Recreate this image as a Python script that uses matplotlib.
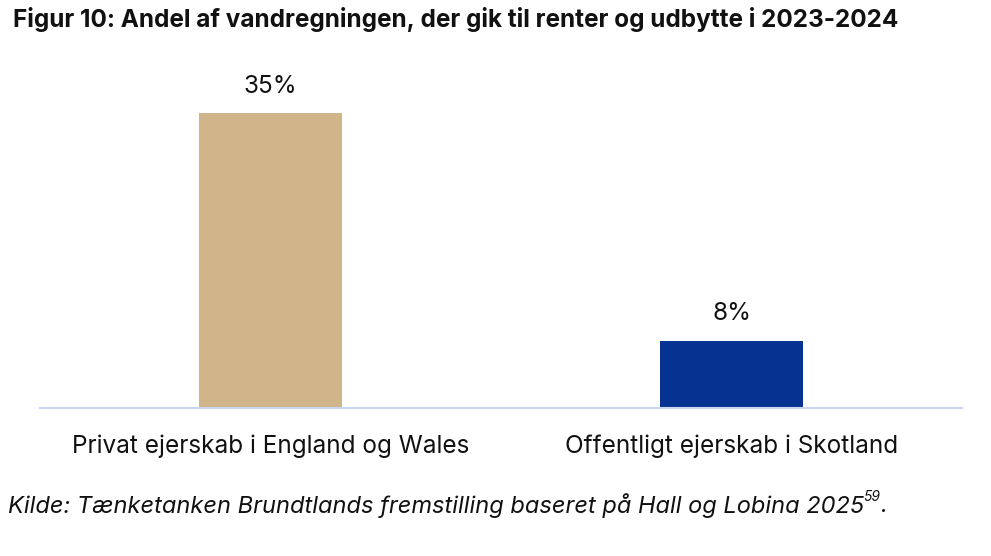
import matplotlib
matplotlib.use("Agg")
import matplotlib.pyplot as plt

plt.rcParams['font.family'] = ['Inter', 'DejaVu Sans']

categories = ["Privat ejerskab i England og Wales", "Offentligt ejerskab i Skotland"]
values = [35, 8]
bar_colors = ["#D0B48A", "#063291"]
title = "Figur 10: Andel af vandregningen, der gik til renter og udbytte i 2023-2024"
source = "Kilde: Tænketanken Brundtlands fremstilling baseret på Hall og Lobina 2025"
footnote = "59"


def main():
    fig = plt.figure(figsize=(9.91, 5.56), dpi=100)
    ax = fig.add_axes([40 / 991, 1 - 408 / 556, 922 / 991, 337 / 556])

    xs = range(len(values))
    ax.bar(xs, values, width=0.31, color=bar_colors)
    for x, v in zip(xs, values):
        ax.annotate("{}%".format(v), (x, v), xytext=(0, 11), textcoords="offset points",
                    ha="center", va="bottom", fontsize=17.5, color="#111111")

    ax.set_xlim(-0.5, 1.5)
    ax.set_ylim(0, 40)
    for side in ["left", "right", "top"]:
        ax.spines[side].set_visible(False)
    ax.spines["bottom"].set_color("#C9D5F7")
    ax.spines["bottom"].set_linewidth(1.5)
    ax.set_yticks([])
    ax.set_xticks(list(xs))
    ax.set_xticklabels(categories, fontsize=17.5, color="#111111")
    ax.tick_params(axis="x", length=0, pad=19)

    fig.text(13 / 991, 1 - 20 / 556, title, fontsize=17.5, fontweight="bold",
             ha="left", va="center", color="#111111")

    src = fig.text(8 / 991, 1 - 506 / 556, source, fontsize=17, style="italic",
                   ha="left", va="center", color="#111111")
    fig.canvas.draw()
    bb = src.get_window_extent()
    x_end = bb.x1 / fig.bbox.width
    sup = fig.text(x_end - 0.001, 1 - 497 / 556, footnote, fontsize=10, style="italic",
                   ha="left", va="center", color="#111111")
    fig.canvas.draw()
    bb2 = sup.get_window_extent()
    fig.text(bb2.x1 / fig.bbox.width, 1 - 506 / 556, ".", fontsize=17, style="italic",
             ha="left", va="center", color="#111111")

    fig.savefig("out.png", dpi=100)


if __name__ == '__main__':
    main()
